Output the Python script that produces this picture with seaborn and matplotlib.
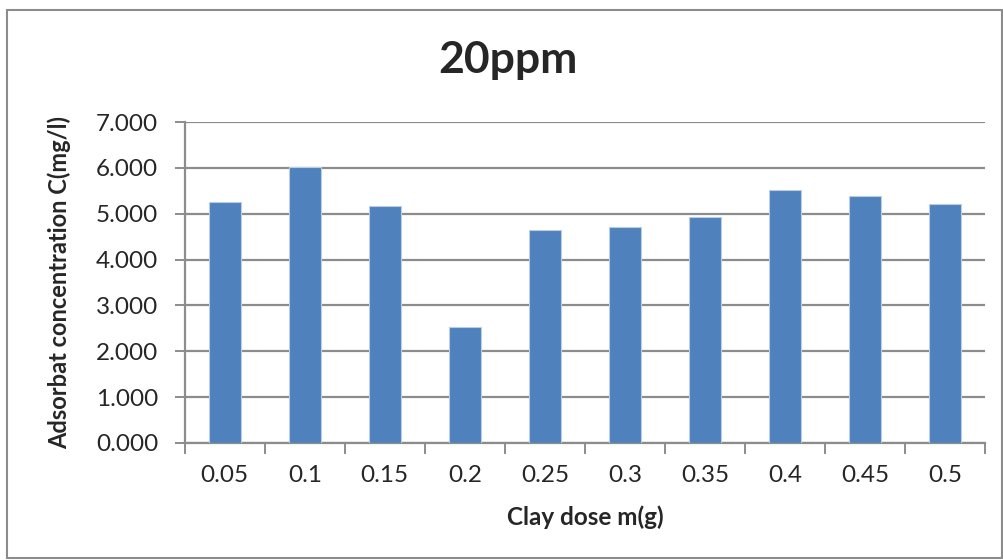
import matplotlib
matplotlib.use("Agg")
import matplotlib.pyplot as plt
from matplotlib.patches import Rectangle
from matplotlib.ticker import FixedLocator
import seaborn as sns
import pandas as pd

# Clay dose (g) and adsorbate concentration (mg/l)
doses = ["0.05", "0.1", "0.15", "0.2", "0.25", "0.3", "0.35", "0.4", "0.45", "0.5"]
concentration = [5.25, 6.03, 5.16, 2.52, 4.64, 4.72, 4.94, 5.51, 5.38, 5.22]
y_ticks = [0, 1, 2, 3, 4, 5, 6, 7]

sns.set_theme(style="white")
plt.rcParams["font.family"] = ["Lato", "DejaVu Sans"]

df = pd.DataFrame({"dose": doses, "conc": concentration})

fig = plt.figure(figsize=(10.04, 5.6), dpi=100)
ax = fig.add_axes([0.184, 0.209, 0.797, 0.573])

sns.barplot(data=df, x="dose", y="conc", order=doses, color="#4F81BD",
            saturation=1, width=0.4, edgecolor="#B9CDE5", linewidth=0.8, ax=ax, zorder=3)

ax.set_ylim(0, 7)
ax.set_xlim(-0.5, len(doses) - 0.5)
ax.set_yticks(y_ticks)
ax.set_yticklabels([f"{v:.3f}" for v in y_ticks], fontsize=17.5)
ax.yaxis.grid(True, color="#8C8C8C", linewidth=1.6, zorder=0)
ax.set_axisbelow(True)

# Category ticks sit between the bars
ax.tick_params(axis="x", which="major", length=0, labelsize=17.5, pad=16)
ax.xaxis.set_minor_locator(FixedLocator([i - 0.5 for i in range(len(doses) + 1)]))
ax.tick_params(axis="x", which="minor", length=8, width=1.4, color="#8C8C8C", direction="out", bottom=True)
ax.tick_params(axis="y", which="major", length=7, width=1.4, color="#8C8C8C", direction="out", left=True, pad=12)

for side in ["top", "right"]:
    ax.spines[side].set_visible(False)
for side in ["left", "bottom"]:
    ax.spines[side].set_color("#8C8C8C")
    ax.spines[side].set_linewidth(1.6)

ax.set_xlabel("Clay dose m(g)", fontsize=17.5, fontweight="bold", labelpad=14)
ax.set_ylabel("Adsorbat concentration C(mg/l)", fontsize=17, fontweight="bold", labelpad=18)
fig.text(0.506, 0.893, "20ppm", fontsize=32, fontweight="bold", ha="center", va="center")

# Outer chart frame
fig.patches.append(Rectangle((0.007, 0.004), 0.991, 0.978, transform=fig.transFigure,
                             fill=False, edgecolor="#8C8C8C", linewidth=1.5))

fig.savefig("out.png", dpi=100)
